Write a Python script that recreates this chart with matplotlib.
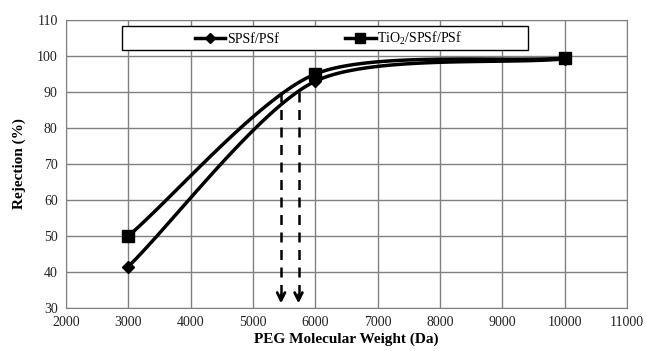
import numpy as np
import matplotlib
matplotlib.use("Agg")
import matplotlib.pyplot as plt
from matplotlib.patches import Rectangle

# data
mw = [3000, 6000, 10000]
rej_spsf = [41.5, 93.0, 99.2]
rej_tio2 = [50.0, 95.0, 99.4]
arrow_x = [5450, 5730]   # MWCO read where curves hit 90 %
arrow_top = 90
arrow_bottom = 30.5


def smooth(xs, ys, n=60, k_mid=1 / 8, k_end=1 / 4):
    # smoothed line through the points (cubic Bezier, like a spreadsheet "smooth line")
    p = np.column_stack([xs, ys]).astype(float)
    t = np.linspace(0, 1, n)[:, None]
    out = []
    last = len(p) - 1
    for i in range(last):
        p0, p1 = p[i], p[i + 1]
        if i == 0:
            c1 = p0 + (p1 - p0) * k_end
        else:
            c1 = p0 + (p[i + 1] - p[i - 1]) * k_mid
        if i + 1 == last:
            c2 = p1 - (p1 - p0) * k_end
        else:
            c2 = p1 - (p[i + 2] - p[i]) * k_mid
        seg = ((1 - t) ** 3) * p0 + 3 * t * (1 - t) ** 2 * c1 + 3 * t ** 2 * (1 - t) * c2 + t ** 3 * p1
        out.append(seg)
    s = np.vstack(out)
    return s[:, 0], s[:, 1]


plt.rcParams['font.family'] = ['Liberation Serif', 'DejaVu Serif']
plt.rcParams['mathtext.default'] = 'regular'

fig = plt.figure(figsize=(6.47, 3.51), dpi=100)
ax = fig.add_axes([66 / 647, 1 - 308 / 351, 561 / 647, 288 / 351])

ax.set_xlim(2000, 11000)
ax.set_ylim(30, 110)
ax.set_xticks(np.arange(2000, 11001, 1000))
ax.set_yticks(np.arange(30, 111, 10))
ax.grid(True, color='#808080', lw=1)
ax.set_axisbelow(True)
for sp in ax.spines.values():
    sp.set_color('#808080')
ax.tick_params(length=0, labelsize=10, colors='#222222', pad=6)

sx, sy = smooth(mw, rej_spsf)
tx, ty = smooth(mw, rej_tio2)
ax.plot(sx, sy, color='black', lw=2.5)
ax.plot(tx, ty, color='black', lw=2.5)
ax.plot(mw, rej_spsf, ls='none', marker='D', ms=6, color='black')
ax.plot(mw, rej_tio2, ls='none', marker='s', ms=8, color='black')

for xa in arrow_x:
    ax.plot([xa, xa], [arrow_top, arrow_bottom + 2], color='black', lw=1.8, ls=(0, (4, 3)))
    ax.annotate('', xy=(xa, arrow_bottom), xytext=(xa, arrow_bottom + 4),
                arrowprops=dict(arrowstyle='->', color='black', lw=2, mutation_scale=14))

# legend in a plain box
ax.add_patch(Rectangle((0.1, 0.896), 0.724, 0.083, transform=ax.transAxes,
                       facecolor='white', edgecolor='black', lw=1, zorder=5))
h1, = ax.plot([], [], color='black', lw=2.5, marker='D', ms=5)
h2, = ax.plot([], [], color='black', lw=2.5, marker='s', ms=7)
leg = ax.legend([h1, h2], ['SPSf/PSf', 'TiO$_2$/SPSf/PSf'], ncol=2, frameon=False,
                loc='center', bbox_to_anchor=(0.468, 0.937), fontsize=10,
                handlelength=2.2, handletextpad=0.1, columnspacing=4.8)
leg.set_zorder(6)

ax.set_xlabel('PEG Molecular Weight (Da)', fontsize=11, fontweight='bold', labelpad=2)
ax.set_ylabel('Rejection (%)', fontsize=11, fontweight='bold', labelpad=8)

fig.savefig('out.png', dpi=100)
